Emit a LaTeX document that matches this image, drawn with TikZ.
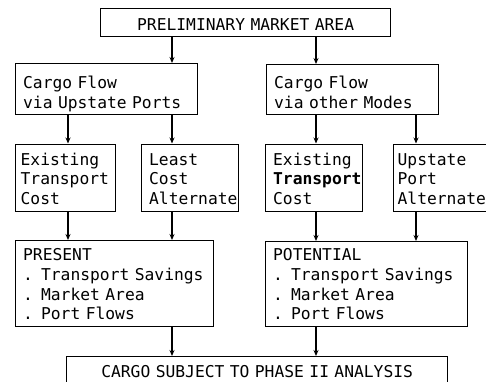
\documentclass[tikz,border=0pt]{standalone}
\usepackage{fontspec}
\setmonofont{DejaVu Sans Mono}
\usetikzlibrary{arrows.meta}

\tikzset{
  box/.style={draw, line width=1.3pt, inner xsep=0pt, inner ysep=0pt, anchor=north west,
    align=left, execute at begin node={\leftskip=#1}},
  box/.default=7.5pt,
  banner/.style={draw, line width=1.3pt, inner xsep=0pt, inner ysep=0pt, anchor=north west, align=center},
  arr/.style={line width=1.2pt, -{Stealth[length=6pt,width=5pt]}}
}

\begin{document}
\begin{tikzpicture}[x=1pt,y=-1pt,font=\ttfamily\fontsize{16.3}{19.7}\selectfont]
\clip (0,0) rectangle (486,381);

% columns of the arrows
\coordinate (colA) at (68,0);
\coordinate (colB) at (172,0);
\coordinate (colC) at (316,0);
\coordinate (colD) at (416,0);

\node[banner, text width=290pt, text height=22pt, text depth=6pt] (prelim) at (100,8) {PRELIMINARY MARKET AREA};

\node[box, text width=182pt, text height=25pt, text depth=26pt] (viaports) at (15,63) {Cargo Flow\\via Upstate Ports};
\node[box, text width=172pt, text height=24pt, text depth=26pt] (viamodes) at (266,64) {Cargo Flow\\via other Modes};

\node[box=5pt, text width=100pt, text height=21pt, text depth=46pt] (costleft) at (15,143.5) {Existing\\Transport\\Cost};
\node[box, text width=97pt, text height=21pt, text depth=46pt] (leastcost) at (141,143.5) {Least\\Cost\\Alternate};
\node[box, text width=97pt, text height=21pt, text depth=46pt] (costright) at (265,143.5) {Existing\\\textbf{Transport}\\Cost};
\node[box=4pt, text width=100pt, text height=21pt, text depth=46pt] (portalt) at (393,143.5) {Upstate\\Port\\Alternate};

\node[box, text width=198pt, text height=20pt, text depth=66pt] (present) at (15,240) {PRESENT\\. Transport Savings\\. Market Area\\. Port Flows};
\node[box, text width=202pt, text height=19pt, text depth=66pt] (potential) at (265,241) {POTENTIAL\\. Transport Savings\\. Market Area\\. Port Flows};

\node[banner, text width=381pt, text height=21pt, text depth=30pt] (phase) at (66,356) {CARGO SUBJECT TO PHASE II ANALYSIS};

\draw[arr] (prelim.south -| colB) -- (viaports.north -| colB);
\draw[arr] (prelim.south -| colC) -- (viamodes.north -| colC);

\draw[arr] (viaports.south -| colA) -- (costleft.north -| colA);
\draw[arr] (viaports.south -| colB) -- (leastcost.north -| colB);
\draw[arr] (viamodes.south -| colC) -- (costright.north -| colC);
\draw[arr] (viamodes.south -| colD) -- (portalt.north -| colD);

\draw[arr] (costleft.south -| colA) -- (present.north -| colA);
\draw[arr] (leastcost.south -| colB) -- (present.north -| colB);
\draw[arr] (costright.south -| colC) -- (potential.north -| colC);
\draw[arr] (portalt.south -| colD) -- (potential.north -| colD);

\draw[arr] (present.south -| colB) -- (phase.north -| colB);
\draw[arr] (potential.south -| colC) -- (phase.north -| colC);
\end{tikzpicture}
\end{document}
